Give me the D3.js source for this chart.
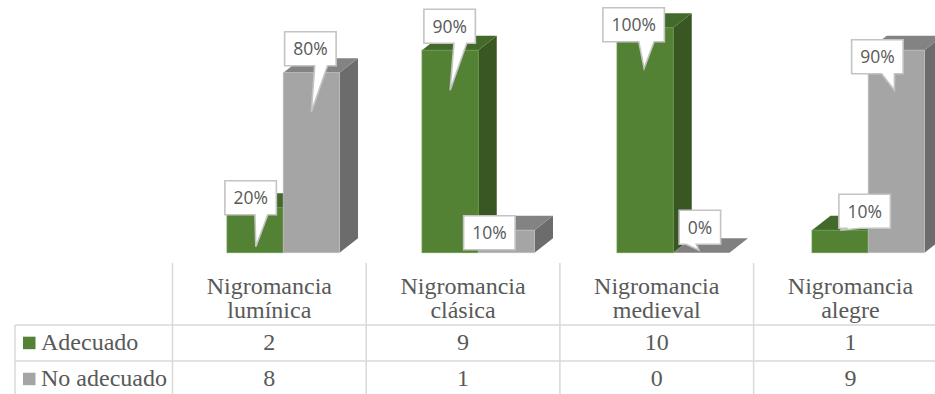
<!DOCTYPE html>
<html>
<head>
<meta charset="utf-8">
<script src="https://cdn.jsdelivr.net/npm/d3@7"></script>
<style>
  html, body { margin: 0; padding: 0; background: #fff; }
  svg { display: block; }
  .serif { font-family: "Liberation Serif", "Times New Roman", Times, serif; }
  .callout-text { font-family: "Open Sans", sans-serif; }
</style>
</head>
<body>
<svg id="chart" width="935" height="394"></svg>
<script>
// Categories and series (counts out of 10 per category)
const categories = ["Nigromancia lumínica", "Nigromancia clásica", "Nigromancia medieval", "Nigromancia alegre"];
const categoryLines = [["Nigromancia", "lumínica"], ["Nigromancia", "clásica"], ["Nigromancia", "medieval"], ["Nigromancia", "alegre"]];
const seriesNames = ["Adecuado", "No adecuado"];
const adecuado = [2, 9, 10, 1];
const noAdecuado = [8, 1, 0, 9];

const seriesValues = [adecuado, noAdecuado];
const totals = categories.map((c, i) => adecuado[i] + noAdecuado[i]);

const palette = {
  "Adecuado":    { front: "#548235", top: "#436a2a", side: "#385723", edge: "#6a9a48", key: "#548235" },
  "No adecuado": { front: "#a5a5a5", top: "#838383", side: "#6c6c6c", edge: "#bdbdbd", key: "#a5a5a5" }
};

const svg = d3.select("#chart");

// ---- scales ----
const y = d3.scaleLinear().domain([0, 1]).range([252.7, 27.7]);
const barBand = d3.scaleBand().domain(categories).range([172, 172 + 4 * 195]);
const barInner = d3.scaleBand().domain(seriesNames).range([55, 55 + 112.5]);
const tableBand = d3.scaleBand().domain(categories).range([172.5, 172.5 + 4 * 193.7]);
const depth = { dx: 18.5, dy: -14.5 };

// ---- 3D columns ----
const barsG = svg.append("g");
const anchors = [];
categories.forEach((cat, ci) => {
  seriesNames.forEach((s, si) => {
    const v = seriesValues[si][ci] / totals[ci];
    const x0 = barBand(cat) + barInner(s);
    const w = barInner.bandwidth();
    const yt = y(v), yb = y(0);
    const col = palette[s];
    const { dx, dy } = depth;
    const g = barsG.append("g");
    // side face
    g.append("path")
      .attr("d", `M${x0 + w},${yt} L${x0 + w + dx},${yt + dy} L${x0 + w + dx},${yb + dy} L${x0 + w},${yb} Z`)
      .attr("fill", col.side);
    // top face
    g.append("path")
      .attr("d", `M${x0},${yt} L${x0 + w},${yt} L${x0 + w + dx},${yt + dy} L${x0 + dx},${yt + dy} Z`)
      .attr("fill", v === 0 ? "#808080" : col.top);
    // front face
    if (yb - yt > 0) {
      g.append("rect")
        .attr("x", x0).attr("y", yt)
        .attr("width", w).attr("height", yb - yt)
        .attr("fill", col.front)
        .attr("stroke", col.edge).attr("stroke-width", 0.8);
    }
    anchors.push({ cat, ci, s, si, v, cx: x0 + w / 2, cy: yt });
  });
});

// ---- data callouts ----
// box centre and pointer tip, relative to the top centre of each column
const calloutOffsets = {
  "Adecuado": [
    { bx: -4.5, by: -10, tx: 0.7, ty: 39 },
    { bx: -0.5, by: -24, tx: 0, ty: 40 },
    { bx: -11.5, by: -3, tx: -1, ty: 40.6 },
    { bx: 24.5, by: -19, tx: 0, ty: 0 }
  ],
  "No adecuado": [
    { bx: -1, by: -24, tx: 0, ty: 39 },
    { bx: -17, by: 2.5, tx: null, ty: null },
    { bx: -1.5, by: -25.5, tx: -2.5, ty: -2.5 },
    { bx: -19, by: 6.5, tx: -2, ty: 40 }
  ]
};

// rectangle with a wedge pointing at the tip
function calloutPath(x0, y0, w, h, tip) {
  const x1 = x0 + w, y1 = y0 + h;
  if (!tip || (tip[0] >= x0 && tip[0] <= x1 && tip[1] >= y0 && tip[1] <= y1)) {
    return `M${x0},${y0} H${x1} V${y1} H${x0} Z`;
  }
  const cx = x0 + w / 2, cy = y0 + h / 2;
  const dxPos = tip[0] - cx, dyPos = tip[1] - cy;
  const dxN = dxPos * h / w;
  const tp = `${tip[0]},${tip[1]}`;
  if (Math.abs(dxN) > Math.abs(dyPos)) {
    const a = y0 + h * (dyPos > 0 ? 7 : 2) / 12, b = y0 + h * (dyPos > 0 ? 10 : 5) / 12;
    if (dxPos > 0) return `M${x0},${y0} H${x1} V${a} L${tp} L${x1},${b} V${y1} H${x0} Z`;
    return `M${x0},${y0} H${x1} V${y1} H${x0} V${b} L${tp} L${x0},${a} Z`;
  }
  const a = x0 + w * (dxPos > 0 ? 7 : 2) / 12, b = x0 + w * (dxPos > 0 ? 10 : 5) / 12;
  if (dyPos > 0) return `M${x0},${y0} H${x1} V${y1} H${b} L${tp} L${a},${y1} H${x0} Z`;
  return `M${x0},${y0} H${a} L${tp} L${b},${y0} H${x1} V${y1} H${x0} Z`;
}

const labelsG = svg.append("g");
anchors.forEach(a => {
  const off = calloutOffsets[a.s][a.ci];
  const text = d3.format(".0%")(a.v);
  const g = labelsG.append("g");
  const path = g.append("path");
  const t = g.append("text")
    .attr("class", "callout-text")
    .attr("font-size", 17.5)
    .attr("fill", "#595959")
    .attr("text-anchor", "middle")
    .attr("x", a.cx + off.bx)
    .attr("y", a.cy + off.by + 6.3)
    .text(text);
  const tw = t.node().getComputedTextLength();
  const w = tw + 17, h = 34;
  const bx0 = a.cx + off.bx - w / 2, by0 = a.cy + off.by - h / 2;
  const tip = off.tx === null ? null : [a.cx + off.tx, a.cy + off.ty];
  path.attr("d", calloutPath(bx0, by0, w, h, tip))
    .attr("fill", "#fff")
    .attr("stroke", "#c4c4c4")
    .attr("stroke-width", 1.6)
    .attr("stroke-linejoin", "miter");
});

// ---- data table ----
const tableG = svg.append("g");
const gridColor = "#d9d9d9";
const headerTop = 263, row1 = 325, row2 = 361, row3 = 397;
const leftEdge = 15;

tableG.selectAll("line.v")
  .data(categories.concat(["_end"]))
  .join("line")
  .attr("x1", (d, i) => tableBand.range()[0] + i * tableBand.step())
  .attr("x2", (d, i) => tableBand.range()[0] + i * tableBand.step())
  .attr("y1", headerTop).attr("y2", row3)
  .attr("stroke", gridColor).attr("stroke-width", 1.5);

tableG.append("line")
  .attr("x1", leftEdge).attr("x2", leftEdge)
  .attr("y1", row1).attr("y2", row3)
  .attr("stroke", gridColor).attr("stroke-width", 1.5);

[row1, row2].forEach(yy => {
  tableG.append("line")
    .attr("x1", leftEdge).attr("x2", 935)
    .attr("y1", yy).attr("y2", yy)
    .attr("stroke", gridColor).attr("stroke-width", 1.5);
});

const textColor = "#595959";
const tableFont = 24;

// category headers
categories.forEach((cat, i) => {
  const cx = tableBand(cat) + tableBand.bandwidth() / 2;
  const t = tableG.append("text")
    .attr("class", "serif").attr("font-size", tableFont)
    .attr("fill", textColor).attr("text-anchor", "middle");
  categoryLines[i].forEach((ln, li) => {
    t.append("tspan").attr("x", cx).attr("y", 294.3 + li * 24).text(ln);
  });
});

// series rows with legend keys
const rowBaselines = [349.5, 385.5];
seriesNames.forEach((s, si) => {
  const base = rowBaselines[si];
  tableG.append("rect")
    .attr("x", 23).attr("y", base - 12.8)
    .attr("width", 12.5).attr("height", 12.5)
    .attr("fill", palette[s].key);
  tableG.append("text")
    .attr("class", "serif").attr("font-size", tableFont)
    .attr("fill", textColor)
    .attr("x", 41).attr("y", base)
    .text(s);
  categories.forEach((cat, ci) => {
    tableG.append("text")
      .attr("class", "serif").attr("font-size", tableFont)
      .attr("fill", textColor).attr("text-anchor", "middle")
      .attr("x", tableBand(cat) + tableBand.bandwidth() / 2)
      .attr("y", base)
      .text(seriesValues[si][ci]);
  });
});
</script>
</body>
</html>
